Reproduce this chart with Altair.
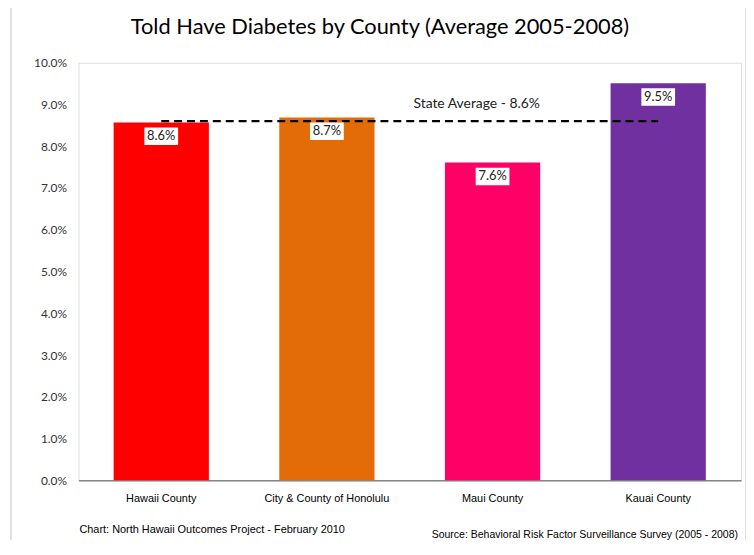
import altair as alt
import pandas as pd

counties = ["Hawaii County", "City & County of Honolulu", "Maui County", "Kauai County"]
rates = [0.0857, 0.0869, 0.0761, 0.0951]
rate_labels = ["8.6%", "8.7%", "7.6%", "9.5%"]
bar_colors = ["#FF0000", "#E36C09", "#FF0066", "#7030A0"]
state_avg = 0.086
state_label = "State Average - 8.6%"
y_ticks = [0.0, 0.01, 0.02, 0.03, 0.04, 0.05, 0.06, 0.07, 0.08, 0.09, 0.10]
title_text = "Told Have Diabetes by County (Average 2005-2008)"
footer_left = "Chart:  North Hawaii Outcomes Project - February 2010"
footer_right = "Source: Behavioral Risk Factor Surveillance Survey (2005 - 2008)"

bars_df = pd.DataFrame({"county": counties, "rate": rates, "label": rate_labels})
avg_df = pd.DataFrame({"county": [counties[0], counties[-1]], "rate": [state_avg, state_avg]})
avg_label_df = pd.DataFrame({"county": ["Maui County"], "rate": [state_avg], "label": [state_label]})
one_row = pd.DataFrame({"k": [0]})

FONT = "Lato"
NARROW = "Liberation Sans Narrow, Liberation Sans, Arial"

x_enc = alt.X(
    "county:N",
    sort=counties,
    scale=alt.Scale(domain=counties, paddingInner=0.425, paddingOuter=0.2125),
    axis=alt.Axis(
        title=None, labelAngle=0, labelFont=NARROW, labelFontSize=11, labelColor="#000000",
        labelPadding=12, ticks=False, domainColor="#868686", domainWidth=1.5,
    ),
)
y_enc = alt.Y(
    "rate:Q",
    scale=alt.Scale(domain=[0, 0.1], nice=False, zero=True),
    axis=alt.Axis(
        title=None, format=".1%", values=y_ticks, grid=False, ticks=False, domain=False,
        labelPadding=12, labelFont=FONT, labelFontSize=12, labelColor="#333333",
    ),
)

bars = alt.Chart(bars_df).mark_bar().encode(
    x=x_enc,
    y=y_enc,
    color=alt.Color("county:N", scale=alt.Scale(domain=counties, range=bar_colors), legend=None),
)

label_boxes = alt.Chart(bars_df).mark_point(
    shape="M-1,-0.52L1,-0.52L1,0.52L-1,0.52Z", filled=True, fill="white", opacity=1,
    size=1156, yOffset=14,
).encode(x=x_enc, y=y_enc)

label_text = alt.Chart(bars_df).mark_text(
    font=FONT, fontSize=13, fontWeight="normal", color="#222222", baseline="middle", yOffset=14,
).encode(x=x_enc, y=y_enc, text="label:N")

avg_line = alt.Chart(avg_df).mark_line(
    color="black", strokeWidth=2.2, strokeDash=[8, 5],
).encode(x=x_enc, y=y_enc)

avg_text = alt.Chart(avg_label_df).mark_text(
    font=FONT, fontSize=14, fontWeight="normal", color="#222222", baseline="middle", dx=-16, dy=-17,
).encode(x=x_enc, y=y_enc, text="label:N")

frame = alt.Chart(one_row).mark_rect(
    fill=None, stroke="#BFBFBF", strokeWidth=1,
).encode(x=alt.value(-68), x2=alt.value(673), y=alt.value(-59), y2=alt.value(700))

title = alt.Chart(one_row).mark_text(
    font=FONT, fontSize=22, fontWeight="normal", color="#000000", baseline="middle", align="center",
).encode(x=alt.value(304), y=alt.value(-36), text=alt.value(title_text))

foot_l = alt.Chart(one_row).mark_text(
    font=NARROW, fontSize=11, fontWeight="normal", color="#000000", baseline="middle", align="left",
).encode(x=alt.value(1), y=alt.value(471), text=alt.value(footer_left))

foot_r = alt.Chart(one_row).mark_text(
    font=NARROW, fontSize=10.6, fontWeight="normal", color="#000000", baseline="middle", align="right",
).encode(x=alt.value(665), y=alt.value(476), text=alt.value(footer_right))

chart = alt.layer(
    frame, bars, avg_line, label_boxes, label_text, avg_text, title, foot_l, foot_r
).properties(
    width=668, height=421, autosize="none",
    padding={"left": 71, "top": 53, "right": 5, "bottom": 58},
).configure_view(stroke="#A6A6A6", strokeWidth=1).configure(background="white")

chart.save("out.html", embed_options={"renderer": "svg", "actions": False})
